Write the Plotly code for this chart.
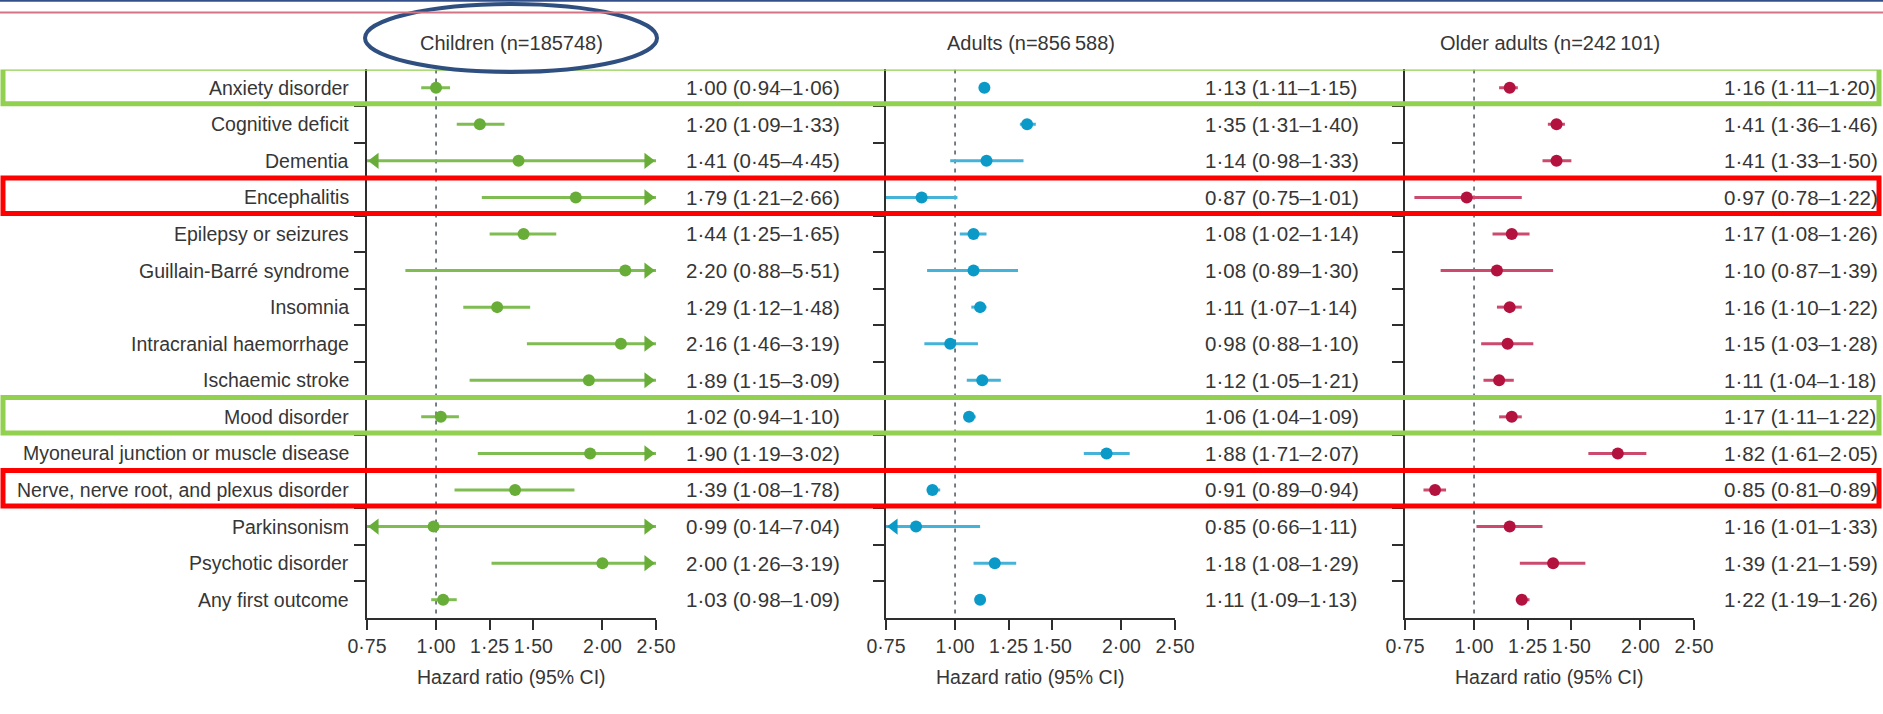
import math
import plotly.graph_objects as go

# ---- data -------------------------------------------------------------
outcomes = [
    "Anxiety disorder", "Cognitive deficit", "Dementia", "Encephalitis",
    "Epilepsy or seizures", "Guillain-Barré syndrome", "Insomnia",
    "Intracranial haemorrhage", "Ischaemic stroke", "Mood disorder",
    "Myoneural junction or muscle disease",
    "Nerve, nerve root, and plexus disorder", "Parkinsonism",
    "Psychotic disorder", "Any first outcome",
]

children_hr = [1.00, 1.20, 1.41, 1.79, 1.44, 2.20, 1.29, 2.16, 1.89, 1.02, 1.90, 1.39, 0.99, 2.00, 1.03]
children_lo = [0.94, 1.09, 0.45, 1.21, 1.25, 0.88, 1.12, 1.46, 1.15, 0.94, 1.19, 1.08, 0.14, 1.26, 0.98]
children_hi = [1.06, 1.33, 4.45, 2.66, 1.65, 5.51, 1.48, 3.19, 3.09, 1.10, 3.02, 1.78, 7.04, 3.19, 1.09]

adults_hr = [1.13, 1.35, 1.14, 0.87, 1.08, 1.08, 1.11, 0.98, 1.12, 1.06, 1.88, 0.91, 0.85, 1.18, 1.11]
adults_lo = [1.11, 1.31, 0.98, 0.75, 1.02, 0.89, 1.07, 0.88, 1.05, 1.04, 1.71, 0.89, 0.66, 1.08, 1.09]
adults_hi = [1.15, 1.40, 1.33, 1.01, 1.14, 1.30, 1.14, 1.10, 1.21, 1.09, 2.07, 0.94, 1.11, 1.29, 1.13]

older_hr = [1.16, 1.41, 1.41, 0.97, 1.17, 1.10, 1.16, 1.15, 1.11, 1.17, 1.82, 0.85, 1.16, 1.39, 1.22]
older_lo = [1.11, 1.36, 1.33, 0.78, 1.08, 0.87, 1.10, 1.03, 1.04, 1.11, 1.61, 0.81, 1.01, 1.21, 1.19]
older_hi = [1.20, 1.46, 1.50, 1.22, 1.26, 1.39, 1.22, 1.28, 1.18, 1.22, 2.05, 0.89, 1.33, 1.59, 1.26]

group_titles = ["Children (n=185748)", "Adults (n=856\u2009588)", "Older adults (n=242\u2009101)"]

tick_values = [0.75, 1.00, 1.25, 1.50, 2.00, 2.50]
tick_labels = ["0·75", "1·00", "1·25", "1·50", "2·00", "2·50"]

highlight_green = ["Anxiety disorder", "Mood disorder"]
highlight_red = ["Encephalitis", "Nerve, nerve root, and plexus disorder"]

# ---- layout constants (pixels) ---------------------------------------
W, H = 1883, 714
FONT = "Liberation Sans, Arial, sans-serif"
FS_LABEL = 19.5
FS_VALUE = 20.5
FS_HEAD = 20
TXT = "#363636"
AX = "#2e2e2e"
X_MIN, X_MAX = 0.75, 2.50
panels_px = [(367, 656), (886, 1175), (1405, 1694)]
plot_top_px, plot_bot_px = 69.4, 618
label_right_px = 351

groups = [
    dict(hr=children_hr, lo=children_lo, hi=children_hi, line="#7fbd52", dot="#68ad38"),
    dict(hr=adults_hr, lo=adults_lo, hi=adults_hi, line="#45b2d8", dot="#0b9ac8"),
    dict(hr=older_hr, lo=older_lo, hi=older_hi, line="#cc4a6e", dot="#b3123e"),
]


def px(x):
    return x / W


def py(y):
    return 1 - y / H


fmt = lambda v: f"{v:.2f}".replace(".", "·")

fig = go.Figure()
n = len(outcomes)
rows = list(range(n))
log_span = math.log10(X_MAX) - math.log10(X_MIN)

ARROW_SIZE = 14
arrow_tip = (ARROW_SIZE / 2) * 2 / math.sqrt(3)

annotations = []
shapes = []

for k, (g, (p0, p1)) in enumerate(zip(groups, panels_px)):
    xa = "x" if k == 0 else f"x{k + 1}"
    ya = "y" if k == 0 else f"y{k + 1}"
    px_per_log = (p1 - p0) / log_span

    # confidence interval segments, clipped to the axis range
    xs, ys = [], []
    right_x, right_y, left_x, left_y = [], [], [], []
    for i in rows:
        lo = max(g["lo"][i], X_MIN)
        hi = min(g["hi"][i], X_MAX)
        xs += [lo, hi, None]
        ys += [i, i, None]
        if g["hi"][i] > X_MAX:
            right_x.append(10 ** (math.log10(X_MAX) - arrow_tip / px_per_log))
            right_y.append(i)
        if g["lo"][i] < X_MIN:
            left_x.append(10 ** (math.log10(X_MIN) + arrow_tip / px_per_log))
            left_y.append(i)

    fig.add_trace(go.Scatter(x=xs, y=ys, mode="lines", xaxis=xa, yaxis=ya,
                             line=dict(color=g["line"], width=3),
                             showlegend=False, hoverinfo="skip", cliponaxis=False))
    if right_x:
        fig.add_trace(go.Scatter(x=right_x, y=right_y, mode="markers", xaxis=xa, yaxis=ya,
                                 marker=dict(symbol="triangle-right", size=ARROW_SIZE,
                                             color=g["dot"], line=dict(width=0)),
                                 showlegend=False, hoverinfo="skip", cliponaxis=False))
    if left_x:
        fig.add_trace(go.Scatter(x=left_x, y=left_y, mode="markers", xaxis=xa, yaxis=ya,
                                 marker=dict(symbol="triangle-left", size=ARROW_SIZE,
                                             color=g["dot"], line=dict(width=0)),
                                 showlegend=False, hoverinfo="skip", cliponaxis=False))
    fig.add_trace(go.Scatter(x=g["hr"], y=rows, mode="markers", xaxis=xa, yaxis=ya,
                             marker=dict(symbol="circle", size=12, color=g["dot"],
                                         line=dict(width=0)),
                             showlegend=False, cliponaxis=False))

    # reference line at HR = 1
    shapes.append(dict(type="line", xref=xa, yref=ya, x0=1, x1=1, y0=-0.5, y1=n - 0.5,
                       line=dict(color="#4a5560", width=1.5, dash="4px,5px"), layer="below"))

    # value text
    for i in rows:
        annotations.append(dict(
            xref="paper", yref=ya, x=px(p1 + 28), y=i, xanchor="left", yanchor="middle",
            text=f"{fmt(g['hr'][i])} ({fmt(g['lo'][i])}–{fmt(g['hi'][i])})",
            showarrow=False, font=dict(family=FONT, size=FS_VALUE, color=TXT)))

    # panel heading and axis title
    cx = (p0 + p1) / 2
    annotations.append(dict(xref="paper", yref="paper", x=px(cx), y=py(43),
                            xanchor="center", yanchor="middle", text=group_titles[k],
                            showarrow=False, font=dict(family=FONT, size=FS_HEAD, color=TXT)))
    annotations.append(dict(xref="paper", yref="paper", x=px(cx), y=py(677),
                            xanchor="center", yanchor="middle", text="Hazard ratio (95% CI)",
                            showarrow=False, font=dict(family=FONT, size=FS_LABEL, color=TXT)))

    axis_x = dict(
        type="log", range=[math.log10(X_MIN), math.log10(X_MAX)],
        domain=[px(p0), px(p1)], anchor=ya, automargin=False,
        showline=True, linecolor=AX, linewidth=2, mirror=False,
        ticks="outside", ticklen=10, tickwidth=2, tickcolor=AX,
        tickvals=tick_values, ticktext=tick_labels, tickangle=0,
        tickfont=dict(family=FONT, size=FS_LABEL, color=TXT),
        showgrid=False, zeroline=False, fixedrange=True,
    )
    axis_y = dict(
        range=[n - 0.5, -0.5], domain=[py(plot_bot_px), py(plot_top_px)],
        anchor=xa, automargin=False, showline=True, linecolor=AX, linewidth=2,
        ticks="outside", ticklen=11, tickwidth=2, tickcolor=AX,
        tickvals=[i + 0.5 for i in rows[:-1]], showticklabels=False,
        showgrid=False, zeroline=False, fixedrange=True,
    )
    fig.update_layout(**{("xaxis" if k == 0 else f"xaxis{k + 1}"): axis_x,
                         ("yaxis" if k == 0 else f"yaxis{k + 1}"): axis_y})

# outcome labels
for i, name in enumerate(outcomes):
    annotations.append(dict(xref="paper", yref="y", x=px(label_right_px), y=i,
                            xanchor="right", yanchor="middle", text=name, showarrow=False,
                            font=dict(family=FONT, size=FS_LABEL, color=TXT)))

# highlight boxes across all panels
for name in highlight_green + highlight_red:
    i = outcomes.index(name)
    color = "#92d050" if name in highlight_green else "#ff0000"
    shapes.append(dict(type="rect", xref="paper", yref="y", x0=px(3), x1=px(1879),
                       y0=i - 0.53, y1=i + 0.44, line=dict(color=color, width=5)))

# ellipse round the first heading
shapes.append(dict(type="circle", xref="paper", yref="paper",
                   x0=px(365), x1=px(657), y0=py(72), y1=py(4),
                   line=dict(color="#2f4f80", width=4)))

# page rules at the top
shapes.append(dict(type="line", xref="paper", yref="paper", x0=0, x1=1, y0=py(0.8), y1=py(0.8),
                   line=dict(color="#34508a", width=2)))
shapes.append(dict(type="line", xref="paper", yref="paper", x0=0, x1=1, y0=py(12.5), y1=py(12.5),
                   line=dict(color="#d47585", width=2)))

fig.update_layout(
    width=W, height=H, margin=dict(l=0, r=0, t=0, b=0, autoexpand=False),
    paper_bgcolor="white", plot_bgcolor="white",
    annotations=annotations, shapes=shapes, showlegend=False,
)

fig.write_html("out.html")
